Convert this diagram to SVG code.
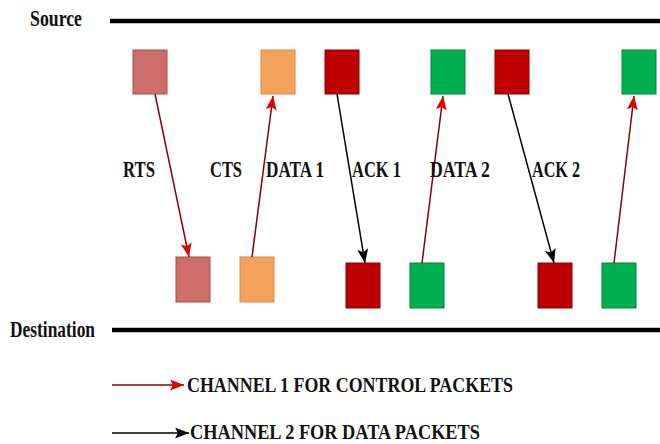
<svg xmlns="http://www.w3.org/2000/svg" width="660" height="444" viewBox="0 0 660 444">
<style>
.t{font-family:"Liberation Serif","Times New Roman",serif;font-weight:bold;fill:#111;}
.lbl{font-size:23px;}
.ax{stroke:#000;stroke-width:4.5;}
.rts{fill:#cd6e6a;stroke:#a84f4c;stroke-width:1;}
.cts{fill:#f4a15b;stroke:#d98a48;stroke-width:1;}
.dat{fill:#c00000;stroke:#8a0000;stroke-width:1;}
.ack{fill:#00b050;stroke:#00853b;stroke-width:1;}
.cr{stroke:#8a0000;stroke-width:1.5;fill:none;}
.cb{stroke:#000;stroke-width:1.5;fill:none;}
</style>
<defs>
<marker id="ar" markerUnits="userSpaceOnUse" markerWidth="15" markerHeight="11" refX="14" refY="5.5" orient="auto">
<path d="M0,0 L14,5.5 L0,11 L3,5.5 z" fill="#e00000"/>
</marker>
<marker id="ab" markerUnits="userSpaceOnUse" markerWidth="15" markerHeight="11" refX="14" refY="5.5" orient="auto">
<path d="M0,0 L14,5.5 L0,11 L3,5.5 z" fill="#000"/>
</marker>
</defs>
<g id="source">
<text class="t" x="30" y="26" font-size="24" textLength="52" lengthAdjust="spacingAndGlyphs">Source</text>
<line class="ax" x1="110" y1="21" x2="660" y2="21"/>
</g>
<g id="destination">
<text class="t" x="10" y="337" font-size="24" textLength="85" lengthAdjust="spacingAndGlyphs">Destination</text>
<line class="ax" x1="112" y1="330" x2="660" y2="330"/>
</g>
<g id="rts-src"><rect class="rts" x="133" y="50" width="34" height="44"/></g>
<g id="cts-src"><rect class="cts" x="261" y="50" width="34" height="44"/></g>
<g id="data1-src"><rect class="dat" x="325" y="50" width="34" height="44"/></g>
<g id="ack1-src"><rect class="ack" x="431" y="50" width="34" height="44"/></g>
<g id="data2-src"><rect class="dat" x="495" y="50" width="34" height="44"/></g>
<g id="ack2-src"><rect class="ack" x="622" y="50" width="34" height="44"/></g>
<g id="rts-dst"><rect class="rts" x="176" y="257" width="34" height="45"/></g>
<g id="cts-dst"><rect class="cts" x="240" y="257" width="34" height="45"/></g>
<g id="data1-dst"><rect class="dat" x="346" y="263" width="34" height="45"/></g>
<g id="ack1-dst"><rect class="ack" x="410" y="263" width="34" height="45"/></g>
<g id="data2-dst"><rect class="dat" x="538" y="263" width="34" height="45"/></g>
<g id="ack2-dst"><rect class="ack" x="602" y="263" width="34" height="45"/></g>
<g id="connectors">
<line class="cr" x1="155" y1="94" x2="189" y2="257" marker-end="url(#ar)"/>
<line class="cr" x1="252" y1="257" x2="273" y2="96" marker-end="url(#ar)"/>
<line class="cb" x1="337" y1="94" x2="365" y2="263" marker-end="url(#ab)"/>
<line class="cr" x1="422" y1="263" x2="443" y2="96" marker-end="url(#ar)"/>
<line class="cb" x1="508" y1="94" x2="554" y2="263" marker-end="url(#ab)"/>
<line class="cr" x1="614" y1="263" x2="634" y2="96" marker-end="url(#ar)"/>
</g>
<g id="labels">
<text class="t lbl" x="123" y="177" textLength="32" lengthAdjust="spacingAndGlyphs">RTS</text>
<text class="t lbl" x="210" y="177" textLength="32" lengthAdjust="spacingAndGlyphs">CTS</text>
<text class="t lbl" x="266" y="177" textLength="58" lengthAdjust="spacingAndGlyphs">DATA 1</text>
<text class="t lbl" x="352" y="177" textLength="49" lengthAdjust="spacingAndGlyphs">ACK 1</text>
<text class="t lbl" x="430" y="177" textLength="60" lengthAdjust="spacingAndGlyphs">DATA 2</text>
<text class="t lbl" x="532" y="177" textLength="48" lengthAdjust="spacingAndGlyphs">ACK 2</text>
</g>
<g id="legend">
<line class="cr" x1="112" y1="385" x2="184" y2="385" marker-end="url(#ar)"/>
<text class="t" x="187" y="392" font-size="22" textLength="326" lengthAdjust="spacingAndGlyphs">CHANNEL 1 FOR CONTROL PACKETS</text>
<line class="cb" x1="112" y1="433" x2="189" y2="433" marker-end="url(#ab)"/>
<text class="t" x="190" y="439" font-size="21" textLength="290" lengthAdjust="spacingAndGlyphs">CHANNEL 2 FOR DATA PACKETS</text>
</g>
</svg>
